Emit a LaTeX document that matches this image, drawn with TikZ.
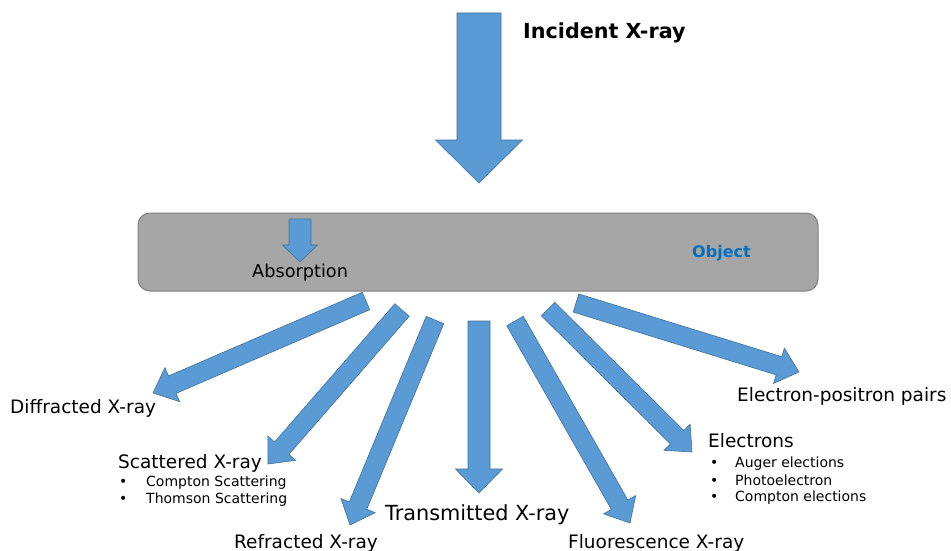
\documentclass[tikz,border=0pt]{standalone}
\usepackage{fontspec}
\setmainfont{DejaVu Sans}
\usetikzlibrary{calc}
\definecolor{arrowblue}{HTML}{5B9BD5}
\definecolor{arrowedge}{HTML}{41719C}
\definecolor{objgray}{HTML}{A6A6A6}
\definecolor{objedge}{HTML}{7F7F7F}
\definecolor{objtext}{HTML}{0070C0}

\tikzset{
  barrow/.style={fill=arrowblue, draw=arrowedge, line width=0.6pt, line join=miter},
  objbox/.style={fill=objgray, draw=objedge, line width=1pt, rounded corners=12pt,
    minimum width=680pt, minimum height=78pt, inner sep=0pt},
  lbl/.style={anchor=base west, inner sep=0pt, font=\fontsize{18.5}{22}\selectfont},
  biglbl/.style={lbl, font=\fontsize{20.8}{24}\selectfont},
  sublbl/.style={anchor=base west, inner sep=0pt, font=\fontsize{14}{17}\selectfont},
}

% block arrow: #1 tail, #2 tip, #3 half shaft width, #4 half head width, #5 head length
\newcommand\blockarrow[5]{%
  \coordinate (#1-hb) at ($(#2)!#5!(#1)$);
  \draw[barrow] ($(#1)!#3!90:(#2)$) -- ($(#1-hb)!#3!-90:(#1)$) -- ($(#1-hb)!#4!-90:(#1)$)
    -- (#2) -- ($(#1-hb)!#4!90:(#1)$) -- ($(#1-hb)!#3!90:(#1)$) -- ($(#1)!#3!-90:(#2)$) -- cycle;
}

\begin{document}
\begin{tikzpicture}[x=1pt, y=-1pt]
\useasboundingbox[fill=white] (0,0) rectangle (951,551);

% incident beam
\coordinate (inc) at (479,13);
\coordinate (inctip) at (479,183);
\blockarrow{inc}{inctip}{22pt}{43.5pt}{43pt}
\node[anchor=base west, inner sep=0pt, font=\fontsize{20.7}{24}\selectfont\bfseries] (inclbl) at (523,39) {Incident X-ray};

% the object
\node[objbox] (obj) at (478,252) {};
\node[anchor=base west, inner sep=0pt, text=objtext, font=\fontsize{16}{19}\selectfont\bfseries] (objlbl) at (692,257) {Object};

% absorption inside the object
\coordinate (abs) at (300,219);
\coordinate (abstip) at (300,262);
\blockarrow{abs}{abstip}{11pt}{17.5pt}{17pt}
\node[anchor=base west, inner sep=0pt, font=\fontsize{17.7}{21}\selectfont] (abslbl) at (252,277) {Absorption};

% outgoing beams
\coordinate (dif) at (366,301);  \coordinate (diftip) at (153,393);
\coordinate (sca) at (402,310);  \coordinate (scatip) at (268,464);
\coordinate (ref) at (435,320);  \coordinate (reftip) at (350,525);
\coordinate (tra) at (479,321);  \coordinate (tratip) at (479,493);
\coordinate (flu) at (515,321);  \coordinate (flutip) at (630,523);
\coordinate (ele) at (548,309);  \coordinate (eletip) at (692,452);
\coordinate (pos) at (576,303);  \coordinate (postip) at (799,372);

\blockarrow{dif}{diftip}{9.5pt}{18.5pt}{21pt}
\blockarrow{sca}{scatip}{9.5pt}{18.5pt}{21pt}
\blockarrow{ref}{reftip}{9.5pt}{18.5pt}{21pt}
\blockarrow{tra}{tratip}{11pt}{23.5pt}{24pt}
\blockarrow{flu}{flutip}{9.5pt}{18.5pt}{21pt}
\blockarrow{ele}{eletip}{9.5pt}{18.5pt}{21pt}
\blockarrow{pos}{postip}{9.5pt}{18.5pt}{21pt}

% labels
\node[lbl] (diflbl) at (10,413) {Diffracted X-ray};
\node[lbl] (scalbl) at (118,468) {Scattered X-ray};
\node[sublbl] (scab1) at (119,486) {•};
\node[sublbl] (scai1) at (146,486) {Compton Scattering};
\node[sublbl] (scab2) at (119,503) {•};
\node[sublbl] (scai2) at (146,503) {Thomson Scattering};
\node[lbl] (reflbl) at (234,548) {Refracted X-ray};
\node[biglbl] (tralbl) at (385,520) {Transmitted X-ray};
\node[lbl] (flulbl) at (568,548) {Fluorescence X-ray};
\node[lbl] (poslbl) at (737,401) {Electron-positron pairs};
\node[lbl] (elelbl) at (708,447) {Electrons};
\node[sublbl] (eleb1) at (710,467) {•};
\node[sublbl] (elei1) at (735,467) {Auger elections};
\node[sublbl] (eleb2) at (710,485) {•};
\node[sublbl] (elei2) at (735,485) {Photoelectron};
\node[sublbl] (eleb3) at (710,501) {•};
\node[sublbl] (elei3) at (735,501) {Compton elections};
\end{tikzpicture}
\end{document}
